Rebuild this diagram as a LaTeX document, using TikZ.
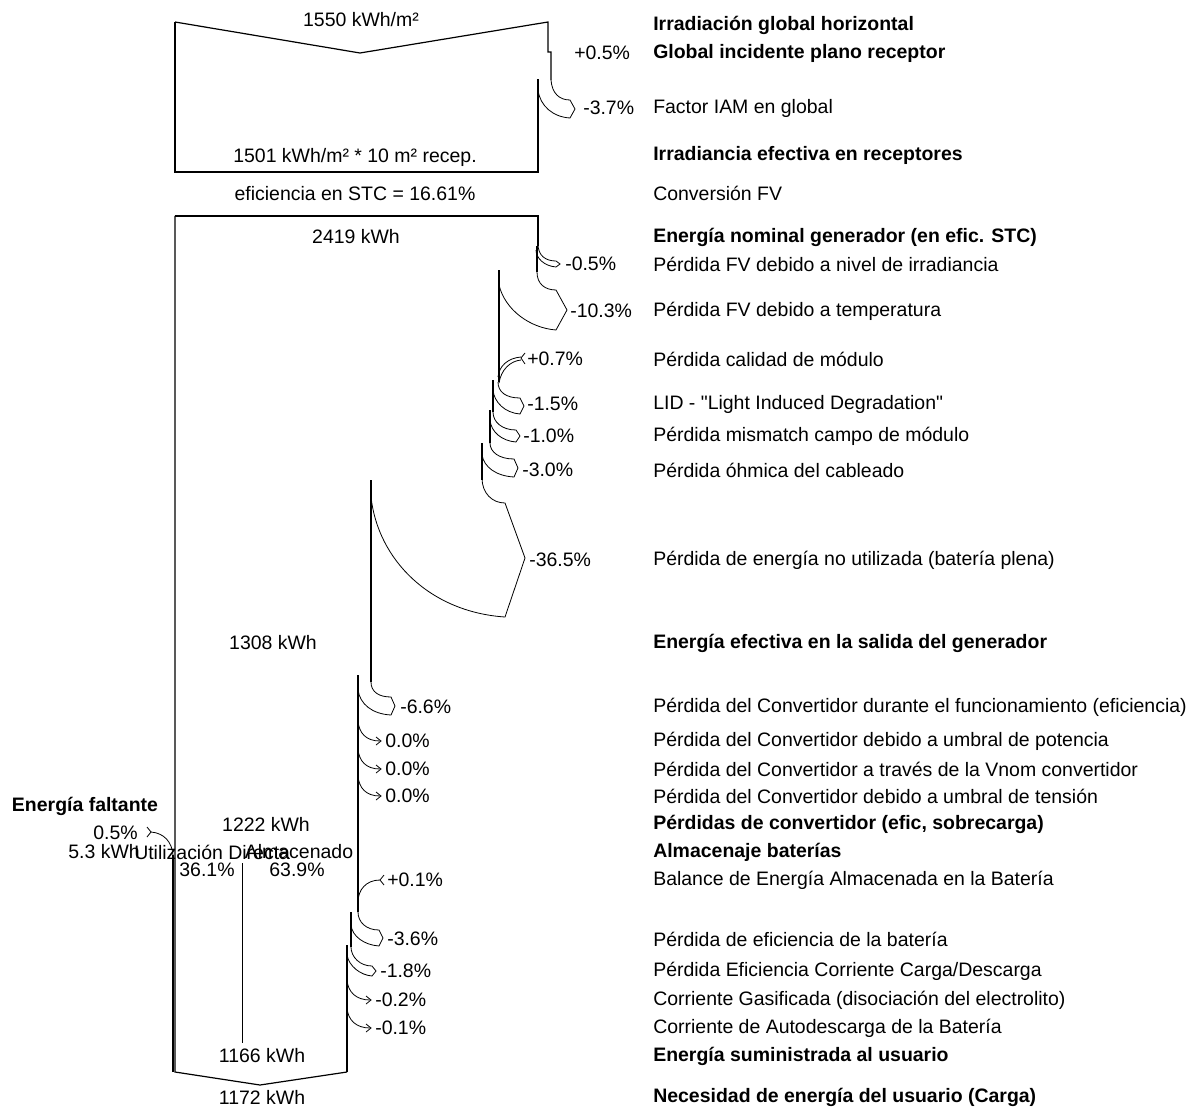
\documentclass[tikz,border=0pt]{standalone}
\usepackage{fontspec}
\setmainfont{Liberation Sans}
\usepackage{tikz}

\begin{document}
\begin{tikzpicture}[x=0.75pt,y=0.75pt,yscale=-1,xscale=1,
        font=\fontsize{14.6}{17}\selectfont,
        edge/.style={line width=0.9pt},
        band/.style={line width=0.6pt},
        txt/.style={anchor=west,inner sep=0.75pt},
        val/.style={inner sep=0.75pt}]
        \useasboundingbox (0,0) rectangle (1198,1109);

        %Shape: irradiation box
        \draw [edge] (175,22) -- (360,53) -- (548,22) -- (548,52) -- (551,52) -- (551,80) ;
        \draw [edge] (175,22) -- (175,172) -- (538,172) -- (538,79) ;
        %Shape: IAM loss
        \draw [band] (551,80) .. controls (552,93) and (559,100) .. (570,100) -- (575,109) -- (570,118) .. controls (553,117) and (540,106) .. (538,90) ;

        %Shape: generator box
        \draw [edge] (175,216) -- (538,216) -- (538,246) ;
        \draw [edge] (537,246) -- (537,272) ;
        %Shape: irradiance level loss
        \draw [band] (538,244) .. controls (538,256) and (546,261) .. (556,261) -- (560,264) -- (556,267) .. controls (544,266) and (536,258) .. (536,250) ;
        %Shape: temperature loss
        \draw [band] (537,272) .. controls (537,284) and (545,290) .. (556,290) -- (567,310) -- (556,330) .. controls (530,328) and (505,310) .. (499,285) ;
        \draw [edge] (499,270) -- (499,382) ;
        %Shape: module quality gain
        \draw [band] (525,353) -- (521,358) -- (525,364) ;
        \draw [band] (521,357) .. controls (508,358) and (499,366) .. (498,377) ;
        \draw [band] (521,360) .. controls (510,361) and (501,370) .. (499,383) ;
        %Shape: LID loss
        \draw [band] (498,382) .. controls (498,392) and (506,398) .. (520,398) -- (524,406) -- (520,414) .. controls (505,413) and (494,402) .. (493,390) ;
        \draw [edge] (493,380) -- (493,412) ;
        %Shape: mismatch loss
        \draw [band] (493,412) .. controls (493,422) and (502,430) .. (516,430) -- (520,436) -- (516,442) .. controls (502,441) and (491,432) .. (490,420) ;
        \draw [edge] (490,410) -- (490,443) ;
        %Shape: wiring loss
        \draw [band] (490,443) .. controls (490,452) and (499,459) .. (514,459) -- (518,468) -- (514,477) .. controls (496,476) and (484,467) .. (482,455) ;
        \draw [edge] (482,443) -- (482,480) ;
        %Shape: unused energy loss
        \draw [band] (482,478) .. controls (482,493) and (492,503) .. (505,503) -- (525,558) -- (505,617) .. controls (430,612) and (378,560) .. (371,497) ;
        \draw [edge] (371,480) -- (371,682) ;
        %Shape: converter efficiency loss
        \draw [band] (371,682) .. controls (371,692) and (379,697) .. (391,697) -- (395,706) -- (391,715) .. controls (372,714) and (360,704) .. (358,690) ;
        \draw [edge] (358,675) -- (358,912) ;
        %Shape: converter threshold losses
        \draw [band] (358,721) .. controls (359,733) and (366,741) .. (380,741) ;
        \draw [band] (376,737) -- (381,741) -- (376,745) ;
        \draw [band] (358,749) .. controls (359,761) and (366,769) .. (380,769) ;
        \draw [band] (376,765) -- (381,769) -- (376,773) ;
        \draw [band] (358,776) .. controls (359,788) and (366,796) .. (380,796) ;
        \draw [band] (376,792) -- (381,796) -- (376,800) ;
        %Shape: stored energy balance gain
        \draw [band] (384,875) -- (380,880) -- (384,885) ;
        \draw [band] (380,880) .. controls (366,880) and (358,890) .. (358,902) ;
        %Shape: battery efficiency loss
        \draw [band] (358,912) .. controls (358,922) and (366,930) .. (379,930) -- (383,938) -- (379,946) .. controls (364,945) and (352,936) .. (351,925) ;
        \draw [edge] (351,912) -- (351,947) ;
        %Shape: charge/discharge loss
        \draw [band] (351,947) .. controls (351,957) and (360,966) .. (372,966) -- (376,971) -- (372,976) .. controls (360,975) and (349,966) .. (347,955) ;
        \draw [edge] (347,945) -- (347,1072) ;
        %Shape: gassing and self-discharge losses
        \draw [band] (347,980) .. controls (348,992) and (356,1000) .. (370,1000) ;
        \draw [band] (366,996) -- (371,1000) -- (366,1004) ;
        \draw [band] (347,1008) .. controls (348,1020) and (356,1028) .. (370,1028) ;
        \draw [band] (366,1024) -- (371,1028) -- (366,1032) ;

        %Shape: left side and load
        \draw [edge] (175,216) -- (175,1072) -- (260,1085) -- (347,1072) ;
        \draw [edge] (173,855) -- (173,1072) ;
        %Shape: missing energy gain
        \draw [band] (147,827) -- (151,832) -- (147,837) ;
        \draw [band] (151,832) .. controls (164,833) and (172,842) .. (173,855) ;
        %Straight Lines: direct use / stored split
        \draw [band] (242,863) -- (242,1043) ;

        % Text Node
        \node [val] (ghi) at (361,20) {1550 kWh/m²};
        % Text Node
        \node [val] (recep) at (355,157) {1501 kWh/m² * 10 m² recep.};
        % Text Node
        \node [val] (stc) at (355,194) {eficiencia en STC = 16.61\%};
        % Text Node
        \node [val] (enom) at (356,237) {2419 kWh};
        % Text Node
        \node [val] (eout) at (273,643) {1308 kWh};
        % Text Node
        \node [val] (econv) at (266,824) {1222 kWh};
        % Text Node
        \node [txt] (direct) at (133,852) {Utilización Directa};
        % Text Node
        \node [val] (stored) at (299,852) {Almacenado};
        % Text Node
        \node [val] (directpct) at (207,870) {36.1\%};
        % Text Node
        \node [val] (storedpct) at (297,870) {63.9\%};
        % Text Node
        \node [val] (missing) at (85,806) {\bfseries Energía faltante};
        % Text Node
        \node [val,anchor=east] (missingpct) at (139,833) {0.5\%};
        % Text Node
        \node [val,anchor=east] (missingkwh) at (141,852) {5.3 kWh};
        % Text Node
        \node [val] (euser) at (262,1056) {1166 kWh};
        % Text Node
        \node [val] (eload) at (262,1097) {1172 kWh};

        % Text Node
        \node [txt] (pglob) at (573,53) {+0.5\%};
        % Text Node
        \node [txt] (piam) at (582,108) {-3.7\%};
        % Text Node
        \node [txt] (pirr) at (564,264) {-0.5\%};
        % Text Node
        \node [txt] (ptemp) at (569,311) {-10.3\%};
        % Text Node
        \node [txt] (pqual) at (526,359) {+0.7\%};
        % Text Node
        \node [txt] (plid) at (526,404) {-1.5\%};
        % Text Node
        \node [txt] (pmis) at (522,436) {-1.0\%};
        % Text Node
        \node [txt] (pohm) at (521,470) {-3.0\%};
        % Text Node
        \node [txt] (punused) at (528,560) {-36.5\%};
        % Text Node
        \node [txt] (pconv) at (399,707) {-6.6\%};
        % Text Node
        \node [txt] (ppow) at (384,741) {0.0\%};
        % Text Node
        \node [txt] (pvnom) at (384,769) {0.0\%};
        % Text Node
        \node [txt] (pvolt) at (384,796) {0.0\%};
        % Text Node
        \node [txt] (pbal) at (386,880) {+0.1\%};
        % Text Node
        \node [txt] (pbat) at (386,939) {-3.6\%};
        % Text Node
        \node [txt] (pcharge) at (379,971) {-1.8\%};
        % Text Node
        \node [txt] (pgas) at (374,1000) {-0.2\%};
        % Text Node
        \node [txt] (pself) at (374,1028) {-0.1\%};

        % Text Node
        \node [txt] (lghi) at (652,25) {\bfseries Irradiación global horizontal};
        % Text Node
        \node [txt] (lglob) at (652,53) {\bfseries Global incidente plano receptor};
        % Text Node
        \node [txt] (liam) at (652,108) {Factor IAM en global};
        % Text Node
        \node [txt] (lrecep) at (652,155) {\bfseries Irradiancia efectiva en receptores};
        % Text Node
        \node [txt] (lfv) at (652,193) {Conversión FV};
        % Text Node
        \node [txt] (lnom) at (652,237) {\bfseries Energía nominal generador (en efic. STC)};
        % Text Node
        \node [txt] (lirr) at (652,264) {Pérdida FV debido a nivel de irradiancia};
        % Text Node
        \node [txt] (ltemp) at (652,311) {Pérdida FV debido a temperatura};
        % Text Node
        \node [txt] (lqual) at (652,359) {Pérdida calidad de módulo};
        % Text Node
        \node [txt] (llid) at (652,404) {LID - \textquotedbl Light Induced Degradation\textquotedbl};
        % Text Node
        \node [txt] (lmis) at (652,436) {Pérdida mismatch campo de módulo};
        % Text Node
        \node [txt] (lohm) at (652,470) {Pérdida óhmica del cableado};
        % Text Node
        \node [txt] (lunused) at (652,560) {Pérdida de energía no utilizada (batería plena)};
        % Text Node
        \node [txt] (lout) at (652,643) {\bfseries Energía efectiva en la salida del generador};
        % Text Node
        \node [txt] (lconv) at (652,707) {Pérdida del Convertidor durante el funcionamiento (eficiencia)};
        % Text Node
        \node [txt] (lpow) at (652,741) {Pérdida del Convertidor debido a umbral de potencia};
        % Text Node
        \node [txt] (lvnom) at (652,769) {Pérdida del Convertidor a través de la Vnom convertidor};
        % Text Node
        \node [txt] (lvolt) at (652,796) {Pérdida del Convertidor debido a umbral de tensión};
        % Text Node
        \node [txt] (lconvtot) at (652,824) {\bfseries Pérdidas de convertidor (efic, sobrecarga)};
        % Text Node
        \node [txt] (lstore) at (652,852) {\bfseries Almacenaje baterías};
        % Text Node
        \node [txt] (lbal) at (652,880) {Balance de Energía Almacenada en la Batería};
        % Text Node
        \node [txt] (lbat) at (652,939) {Pérdida de eficiencia de la batería};
        % Text Node
        \node [txt] (lcharge) at (652,971) {Pérdida Eficiencia Corriente Carga/Descarga};
        % Text Node
        \node [txt] (lgas) at (652,1000) {Corriente Gasificada (disociación del electrolito)};
        % Text Node
        \node [txt] (lself) at (652,1028) {Corriente de Autodescarga de la Batería};
        % Text Node
        \node [txt] (luser) at (652,1056) {\bfseries Energía suministrada al usuario};
        % Text Node
        \node [txt] (lload) at (652,1097) {\bfseries Necesidad de energía del usuario (Carga)};
\end{tikzpicture}
\end{document}
